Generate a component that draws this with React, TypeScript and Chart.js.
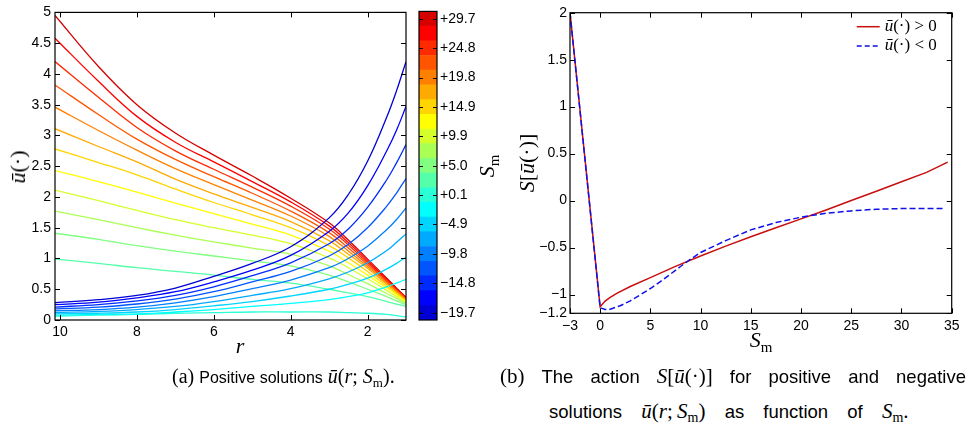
import React, { useEffect, useRef } from 'react';
import { Chart, registerables } from 'chart.js';
Chart.register(...registerables);

// ---------- data: left panel (positive solutions u(r; Sm)) ----------
const R = [10.13, 9, 8, 7, 6, 5, 4, 3, 2.5, 2, 1.5, 1.25, 1];
const R_TICKS = [10, 8, 6, 4, 2];
const U_TICKS = [0, 0.5, 1, 1.5, 2, 2.5, 3, 3.5, 4, 4.5, 5];

const S_VALUES = [-19.7, -17.23, -14.76, -12.29, -9.82, -7.35, -4.88, -2.41, 0.06, 2.53, 5.0, 7.47, 9.94, 12.41, 14.88, 17.35, 19.82, 22.29, 24.76, 27.23, 29.7];

const uNeg19_7 = [0.28, 0.33, 0.40, 0.52, 0.71, 0.92, 1.19, 1.66, 2.04, 2.58, 3.30, 3.72, 4.20];
const uNeg17_2 = [0.25, 0.29, 0.36, 0.46, 0.62, 0.81, 1.05, 1.44, 1.74, 2.18, 2.75, 3.08, 3.47];
const uNeg14_8 = [0.21, 0.25, 0.31, 0.40, 0.54, 0.72, 0.93, 1.24, 1.48, 1.83, 2.28, 2.55, 2.85];
const uNeg12_3 = [0.18, 0.21, 0.26, 0.34, 0.46, 0.62, 0.79, 1.04, 1.23, 1.50, 1.85, 2.06, 2.30];
const uNeg9_8 = [0.15, 0.17, 0.21, 0.28, 0.38, 0.51, 0.65, 0.85, 1.00, 1.20, 1.47, 1.63, 1.82];
const uNeg7_4 = [0.12, 0.14, 0.17, 0.22, 0.30, 0.40, 0.51, 0.67, 0.78, 0.93, 1.13, 1.26, 1.40];
const uNeg4_9 = [0.10, 0.11, 0.13, 0.17, 0.23, 0.30, 0.39, 0.50, 0.58, 0.68, 0.83, 0.92, 1.02];
const uNeg2_4 = [0.08, 0.09, 0.10, 0.13, 0.17, 0.22, 0.27, 0.33, 0.38, 0.44, 0.54, 0.60, 0.66];
const uPos0_1 = [0.06, 0.08, 0.09, 0.11, 0.12, 0.13, 0.13, 0.13, 0.12, 0.11, 0.09, 0.07, 0.05];
const uPos2_5 = [0.99, 0.92, 0.85, 0.79, 0.73, 0.66, 0.60, 0.50, 0.44, 0.38, 0.30, 0.26, 0.22];
const uPos5_0 = [1.41, 1.31, 1.21, 1.12, 1.04, 0.96, 0.88, 0.73, 0.62, 0.50, 0.38, 0.31, 0.25];
const uPos7_5 = [1.77, 1.63, 1.50, 1.38, 1.27, 1.17, 1.07, 0.88, 0.74, 0.59, 0.43, 0.35, 0.27];
const uPos9_9 = [2.11, 1.94, 1.78, 1.63, 1.50, 1.38, 1.24, 1.01, 0.85, 0.67, 0.48, 0.38, 0.28];
const uPos12_4 = [2.43, 2.25, 2.08, 1.90, 1.73, 1.56, 1.38, 1.12, 0.93, 0.73, 0.52, 0.41, 0.30];
const uPos14_9 = [2.78, 2.56, 2.36, 2.13, 1.91, 1.71, 1.50, 1.21, 1.01, 0.79, 0.55, 0.43, 0.31];
const uPos17_4 = [3.11, 2.82, 2.57, 2.29, 2.05, 1.83, 1.60, 1.29, 1.07, 0.84, 0.58, 0.45, 0.32];
const uPos19_8 = [3.46, 3.08, 2.76, 2.46, 2.20, 1.95, 1.69, 1.36, 1.12, 0.87, 0.60, 0.47, 0.33];
const uPos22_3 = [3.82, 3.34, 2.94, 2.61, 2.33, 2.06, 1.77, 1.42, 1.17, 0.90, 0.62, 0.48, 0.34];
const uPos24_8 = [4.20, 3.62, 3.13, 2.75, 2.45, 2.16, 1.85, 1.48, 1.22, 0.93, 0.64, 0.50, 0.35];
const uPos27_2 = [4.58, 3.88, 3.31, 2.89, 2.57, 2.25, 1.92, 1.53, 1.26, 0.96, 0.66, 0.51, 0.36];
const uPos29_7 = [4.95, 4.12, 3.50, 3.04, 2.68, 2.34, 1.98, 1.58, 1.30, 0.99, 0.68, 0.52, 0.37];

const CURVES = [uNeg19_7, uNeg17_2, uNeg14_8, uNeg12_3, uNeg9_8, uNeg7_4, uNeg4_9, uNeg2_4, uPos0_1,
  uPos2_5, uPos5_0, uPos7_5, uPos9_9, uPos12_4, uPos14_9, uPos17_4, uPos19_8, uPos22_3, uPos24_8, uPos27_2, uPos29_7];

// ---------- data: right panel (action S[u]) ----------
const SM_POS = [-3, 0, 0.5, 1, 1.7, 3, 5, 7.5, 10, 12.5, 15, 17.5, 20, 22.5, 25, 27.5, 30, 32.5, 34.6];
const ACT_POS = [2.0, -1.13, -1.07, -1.03, -0.985, -0.915, -0.82, -0.70, -0.59, -0.485, -0.385, -0.29, -0.195, -0.10, 0.0, 0.10, 0.20, 0.30, 0.41];
const SM_NEG = [-3, 0, 0.5, 1, 2, 3, 4, 5, 6, 7, 8, 9, 10, 12.5, 15, 17.5, 20, 22.5, 25, 27.5, 30, 34.2];
const ACT_NEG = [2.0, -1.14, -1.16, -1.156, -1.12, -1.067, -1.003, -0.936, -0.862, -0.783, -0.702, -0.624, -0.553, -0.426, -0.312, -0.234, -0.177, -0.134, -0.11, -0.092, -0.085, -0.085];
const SM_TICKS = [-3, 0, 5, 10, 15, 20, 25, 30, 35];
const ACT_TICKS = [-1.2, -1, -0.5, 0, 0.5, 1, 1.5, 2];

// ---------- styles ----------
function jet(m: number): string[] {
  const n = Math.ceil(m / 4);
  const u: number[] = [];
  for (let i = 1; i <= n; i++) u.push(i / n);
  for (let i = 1; i < n; i++) u.push(1);
  for (let i = n; i >= 1; i--) u.push(i / n);
  const g0 = Math.ceil(n / 2) - (m % 4 === 1 ? 1 : 0);
  const rgb = Array.from({ length: m }, () => [0, 0, 0]);
  u.forEach((val, j) => {
    const gi = g0 + j + 1;
    const ri = gi + n;
    const bi = gi - n;
    if (ri >= 1 && ri <= m) rgb[ri - 1][0] = val;
    if (gi >= 1 && gi <= m) rgb[gi - 1][1] = val;
    if (bi >= 1 && bi <= m) rgb[bi - 1][2] = val;
  });
  return rgb.map((c) => `rgb(${c.map((v) => Math.round(v * 255)).join(',')})`);
}
const JET = jet(S_VALUES.length);
const TICK_FONT = { family: '"Liberation Sans", Arial, sans-serif', size: 14 };
const SERIF = '"Liberation Serif", "Times New Roman", serif';
const SANS = '"Liberation Sans", Arial, sans-serif';
const minus = (v: number) => (v < 0 ? '\u2212' + String(Math.abs(v)) : String(v));

const framePlugin = {
  id: 'frame',
  afterDatasetsDraw(chart: any, _args: any, opts: any) {
    if (!opts || !opts.enabled) return;
    const { ctx, chartArea: a } = chart;
    const len = opts.tickLen ?? 5;
    ctx.save();
    ctx.strokeStyle = '#000';
    ctx.lineWidth = 1;
    ctx.setLineDash([]);
    ctx.beginPath();
    const xs = opts.xTicks ? chart.scales.x : null;
    const ys = chart.scales.y;
    if (xs) {
      xs.ticks.forEach((t: any) => {
        const px = Math.round(xs.getPixelForValue(t.value)) + 0.5;
        ctx.moveTo(px, a.bottom); ctx.lineTo(px, a.bottom - len);
        ctx.moveTo(px, a.top); ctx.lineTo(px, a.top + len);
      });
    }
    ys.ticks.forEach((t: any) => {
      const py = Math.round(ys.getPixelForValue(t.value)) + 0.5;
      ctx.moveTo(a.left, py); ctx.lineTo(a.left + len, py);
      ctx.moveTo(a.right, py); ctx.lineTo(a.right - len, py);
    });
    ctx.stroke();
    ctx.lineWidth = 1.2;
    ctx.strokeRect(a.left, a.top, a.right - a.left, a.bottom - a.top);
    ctx.restore();
  },
};

const legendPlugin = {
  id: 'innerLegend',
  afterDraw(chart: any, _args: any, opts: any) {
    if (!opts || !opts.items) return;
    const { ctx, chartArea: a } = chart;
    ctx.save();
    opts.items.forEach((it: any, i: number) => {
      const y = a.top + 14 + i * 19.3;
      ctx.beginPath();
      ctx.strokeStyle = it.color;
      ctx.lineWidth = 1.5;
      ctx.setLineDash(it.dash);
      ctx.moveTo(a.right - 95, y);
      ctx.lineTo(a.right - 72, y);
      ctx.stroke();
      ctx.setLineDash([]);
      ctx.fillStyle = '#000';
      ctx.textBaseline = 'middle';
      let x = a.right - 67;
      it.parts.forEach((p: any) => {
        ctx.font = `${p.italic ? 'italic ' : ''}17px ${SERIF}`;
        ctx.fillText(p.text, x, y);
        x += ctx.measureText(p.text).width;
      });
    });
    ctx.restore();
  },
};

function fixedTicks(values: number[]) {
  return (scale: any) => {
    scale.ticks = values.map((v) => ({ value: v }));
  };
}

function leftConfig(): any {
  return {
    type: 'line',
    data: {
      datasets: CURVES.map((vals, i) => ({
        data: R.map((r, j) => ({ x: r, y: vals[j] })),
        borderColor: JET[i],
        borderWidth: 1.3,
        pointRadius: 0,
        fill: false,
        tension: 0.4,
      })),
    },
    options: {
      animation: false,
      responsive: false,
      events: [],
      layout: { autoPadding: false, padding: { left: 0, top: 7, right: 6, bottom: 0 } },
      plugins: { legend: { display: false }, tooltip: { enabled: false }, frame: { enabled: true, xTicks: true, tickLen: 5 } },
      scales: {
        x: {
          type: 'linear', min: 1, max: 10.13, reverse: true,
          grid: { display: false, drawTicks: false }, border: { display: false },
          ticks: { font: TICK_FONT, color: '#000', padding: 4, maxRotation: 0, autoSkip: false, callback: (v: number) => String(v) },
          afterBuildTicks: fixedTicks(R_TICKS),
          afterFit: (s: any) => { s.height = 20; },
        },
        y: {
          type: 'linear', min: 0, max: 5,
          grid: { display: false, drawTicks: false }, border: { display: false },
          ticks: { font: TICK_FONT, color: '#000', padding: 4, autoSkip: false, callback: (v: number) => String(v) },
          afterBuildTicks: fixedTicks(U_TICKS),
          afterFit: (s: any) => { s.width = 55; },
        },
      },
    },
    plugins: [framePlugin],
  };
}

function colorbarConfig(): any {
  const edges: number[] = [];
  for (let i = 0; i <= S_VALUES.length; i++) {
    if (i === 0) edges.push(S_VALUES[0] - (S_VALUES[1] - S_VALUES[0]) / 2);
    else if (i === S_VALUES.length) edges.push(S_VALUES[i - 1] + (S_VALUES[i - 1] - S_VALUES[i - 2]) / 2);
    else edges.push((S_VALUES[i - 1] + S_VALUES[i]) / 2);
  }
  const tickVals = S_VALUES.filter((_, i) => i % 2 === 0);
  return {
    type: 'bar',
    data: {
      labels: [''],
      datasets: S_VALUES.map((_, i) => ({
        data: [[edges[i], edges[i + 1]]],
        backgroundColor: JET[i],
        borderWidth: 0,
        grouped: false,
        barPercentage: 1,
        categoryPercentage: 1,
      })),
    },
    options: {
      animation: false,
      responsive: false,
      events: [],
      layout: { autoPadding: false, padding: { left: 19, top: 7, right: 0, bottom: 20 } },
      plugins: { legend: { display: false }, tooltip: { enabled: false }, frame: { enabled: true, xTicks: false, tickLen: 4 } },
      scales: {
        x: { display: false },
        y: {
          position: 'right', type: 'linear', min: edges[0], max: edges[edges.length - 1],
          grid: { display: false, drawTicks: false }, border: { display: false },
          ticks: {
            font: TICK_FONT, color: '#000', padding: 3, autoSkip: false,
            callback: (v: number) => (v >= 0 ? '+' : '\u2212') + Math.abs(v).toFixed(1),
          },
          afterBuildTicks: fixedTicks(tickVals),
          afterFit: (s: any) => { s.width = 63; },
        },
      },
    },
    plugins: [framePlugin],
  };
}

function rightConfig(): any {
  return {
    type: 'line',
    data: {
      datasets: [
        {
          data: SM_NEG.map((x, i) => ({ x, y: ACT_NEG[i] })),
          borderColor: '#1010e8', borderWidth: 1.5, borderDash: [6, 3], pointRadius: 0, fill: false, tension: 0, order: 0,
        },
        {
          data: SM_POS.map((x, i) => ({ x, y: ACT_POS[i] })),
          borderColor: '#c80f0f', borderWidth: 1.5, pointRadius: 0, fill: false, tension: 0, order: 1,
        },
      ],
    },
    options: {
      animation: false,
      responsive: false,
      events: [],
      layout: { autoPadding: false, padding: { left: 0, top: 12.7, right: 22.3, bottom: 6.7 } },
      plugins: {
        legend: { display: false }, tooltip: { enabled: false },
        frame: { enabled: true, xTicks: true, tickLen: 5 },
        innerLegend: {
          items: [
            { color: '#c80f0f', dash: [], parts: [{ text: 'ū', italic: true }, { text: '(·) > 0' }] },
            { color: '#1010e8', dash: [5, 3], parts: [{ text: 'ū', italic: true }, { text: '(·) < 0' }] },
          ],
        },
      },
      scales: {
        x: {
          type: 'linear', min: -3, max: 35,
          grid: { display: false, drawTicks: false }, border: { display: false },
          ticks: { font: TICK_FONT, color: '#000', padding: 4, maxRotation: 0, autoSkip: false, callback: minus },
          afterBuildTicks: fixedTicks(SM_TICKS),
          afterFit: (s: any) => { s.height = 20; },
        },
        y: {
          type: 'linear', min: -1.2, max: 2,
          grid: { display: false, drawTicks: false }, border: { display: false },
          ticks: { font: TICK_FONT, color: '#000', padding: 3, autoSkip: false, callback: minus },
          afterBuildTicks: fixedTicks(ACT_TICKS),
          afterFit: (s: any) => { s.width = 80; },
        },
      },
    },
    plugins: [framePlugin, legendPlugin],
  };
}

const abs = (l: number, t: number, extra: React.CSSProperties = {}): React.CSSProperties => ({
  position: 'absolute', left: l, top: t, whiteSpace: 'nowrap', lineHeight: 1, ...extra,
});
const Sub = ({ children, size = 13 }: { children: React.ReactNode; size?: number }) => (
  <span style={{ fontFamily: SERIF, fontStyle: 'normal', fontSize: size, position: 'relative', top: '0.3em' }}>{children}</span>
);
const It = ({ children }: { children: React.ReactNode }) => (
  <span style={{ fontFamily: SERIF, fontStyle: 'italic' }}>{children}</span>
);
const Rm = ({ children }: { children: React.ReactNode }) => (
  <span style={{ fontFamily: SERIF, fontStyle: 'normal' }}>{children}</span>
);
const Sa = ({ children, size = 17 }: { children: React.ReactNode; size?: number }) => (
  <span style={{ fontFamily: SANS, fontSize: size }}>{children}</span>
);

export default function App() {
  const leftRef = useRef<HTMLCanvasElement>(null);
  const cbRef = useRef<HTMLCanvasElement>(null);
  const rightRef = useRef<HTMLCanvasElement>(null);

  useEffect(() => {
    const charts: Chart[] = [];
    if (leftRef.current) charts.push(new Chart(leftRef.current, leftConfig()));
    if (cbRef.current) charts.push(new Chart(cbRef.current, colorbarConfig()));
    if (rightRef.current) charts.push(new Chart(rightRef.current, rightConfig()));
    return () => charts.forEach((c) => c.destroy());
  }, []);

  return (
    <div style={{ position: 'absolute', left: 0, top: 0, width: 974, height: 427, background: '#fff', overflow: 'hidden', color: '#000' }}>
      <canvas ref={leftRef} width={412} height={340} style={{ position: 'absolute', left: 0, top: 0, width: 412, height: 340 }} />
      <canvas ref={cbRef} width={100} height={340} style={{ position: 'absolute', left: 400, top: 0, width: 100, height: 340 }} />
      <canvas ref={rightRef} width={484} height={340} style={{ position: 'absolute', left: 490, top: 0, width: 484, height: 340 }} />

      {/* left panel axis titles */}
      <div style={abs(18, 167, { fontSize: 22, transform: 'translate(-50%,-50%) rotate(-90deg)' })}>
        <It>ū</It><Rm>(·)</Rm>
      </div>
      <div style={abs(240, 346, { fontSize: 22, transform: 'translate(-50%,-50%)' })}>
        <It>r</It>
      </div>
      <div style={abs(487, 166, { fontSize: 22, transform: 'translate(-50%,-50%) rotate(-90deg)' })}>
        <It>S</It><Sub size={15}>m</Sub>
      </div>

      {/* right panel axis titles */}
      <div style={abs(527, 163, { fontSize: 22, transform: 'translate(-50%,-50%) rotate(-90deg)' })}>
        <It>S</It><Rm>[</Rm><It>ū</It><Rm>(·)]</Rm>
      </div>
      <div style={abs(761, 340, { fontSize: 22, transform: 'translate(-50%,-50%)' })}>
        <It>S</It><Sub size={15}>m</Sub>
      </div>

      {/* captions */}
      <div style={abs(172, 366, { fontSize: 20 })}>
        <Rm>(a)</Rm>{' '}<Sa size={16}>Positive solutions</Sa>{' '}
        <It>ū</It><Rm>(</Rm><It>r</It><Rm>; </Rm><It>S</It><Sub>m</Sub><Rm>).</Rm>
      </div>
      <div style={abs(500, 366, { fontSize: 21, width: 466, whiteSpace: 'normal', textAlign: 'justify', textAlignLast: 'justify' })}>
        <Rm>(b)</Rm> <Sa size={18.5}>The</Sa> <Sa size={18.5}>action</Sa>{' '}
        <span><It>S</It><Rm>[</Rm><It>ū</It><Rm>(·)]</Rm></span>{' '}
        <Sa size={18.5}>for</Sa> <Sa size={18.5}>positive</Sa> <Sa size={18.5}>and</Sa> <Sa size={18.5}>negative</Sa>
      </div>
      <div style={abs(549, 401, { fontSize: 21, wordSpacing: 14 })}>
        <Sa size={18.5}>solutions</Sa>{' '}
        <It>ū</It><Rm>(</Rm><It>r</It><Rm>;&#8201;</Rm><It>S</It><Sub size={14}>m</Sub><Rm>)</Rm>{' '}
        <Sa size={18.5}>as function of</Sa>{' '}
        <It>S</It><Sub size={14}>m</Sub><Rm>.</Rm>
      </div>
    </div>
  );
}
